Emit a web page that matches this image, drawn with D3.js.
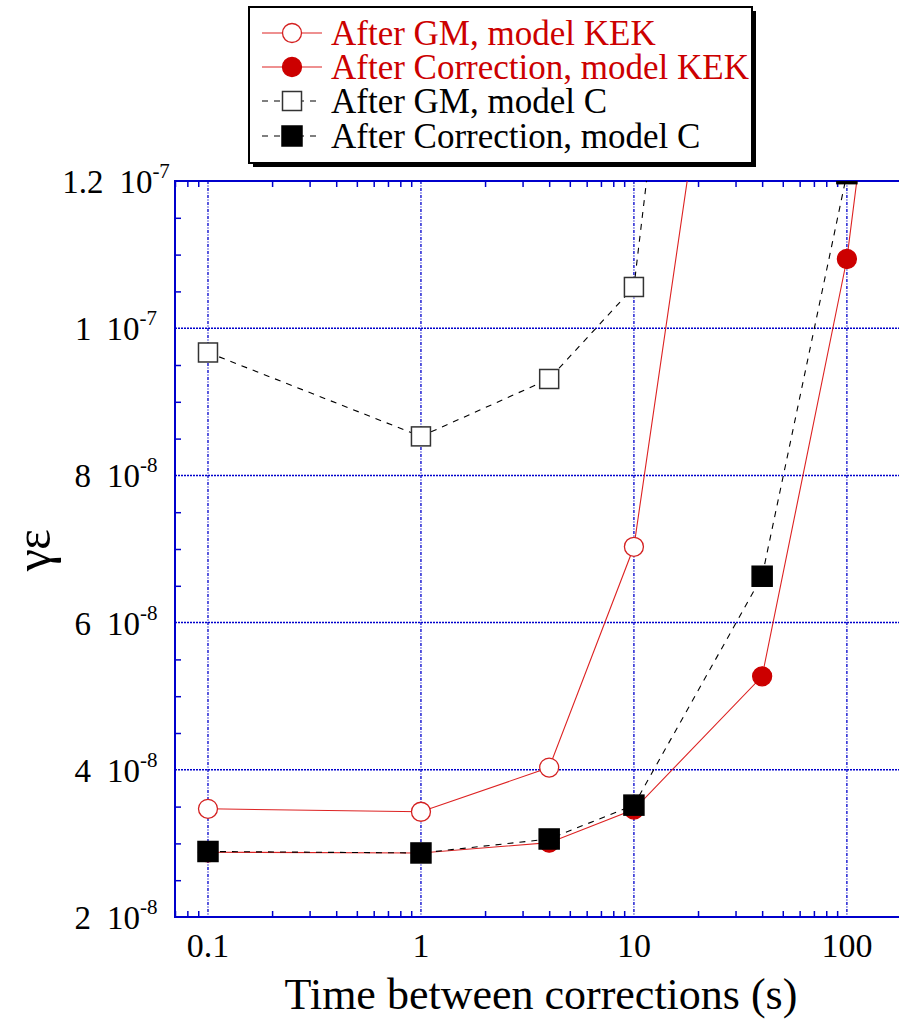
<!DOCTYPE html>
<html>
<head>
	<meta charset="utf-8">
	<title></title>
	<style>
		body { margin: 0; background: #fff; }
		text { font-family: "Liberation Serif", "Times New Roman", serif; }
	</style>
</head>
<body>
	<div class="chart"></div>
	<script src="https://cdn.jsdelivr.net/npm/d3@7/dist/d3.min.js" charset="utf-8"></script>

	<script type="text/javascript">
		// values (time in s, emittance)
		var gmKekT   = [0.1, 1, 4, 10, 40];
		var gmKekE   = [3.47e-8, 3.43e-8, 4.03e-8, 7.03e-8, 1.9e-7];
		var corKekT  = [0.1, 1, 4, 10, 40, 100, 200];
		var corKekE  = [2.88e-8, 2.87e-8, 3.01e-8, 3.46e-8, 5.27e-8, 1.094e-7, 1.78e-7];
		var gmCT     = [0.1, 1, 4, 10, 40];
		var gmCE     = [9.67e-8, 8.53e-8, 9.31e-8, 1.056e-7, 2.52e-7];
		var corCT    = [0.1, 1, 4, 10, 40, 100];
		var corCE    = [2.89e-8, 2.87e-8, 3.06e-8, 3.52e-8, 6.63e-8, 1.21e-7];

		var legendLabels = ["After GM, model KEK", "After Correction, model KEK", "After GM, model C", "After Correction, model C"];
		var xTicks = [0.1, 1, 10, 100];
		var xTickLabels = ["0.1", "1", "10", "100"];
		var yTicks = [2e-8, 4e-8, 6e-8, 8e-8, 1e-7, 1.2e-7];
		var yTickMant = ["2", "4", "6", "8", "1", "1.2"];
		var yTickExp  = ["-8", "-8", "-8", "-8", "-7", "-7"];

		var width  = 899;
		var height = 1019;
		var pLeft = 175, pTop = 181, pBottom = 917, pRight = 911;
		var blue = "#0000cc";
		var red  = "#cc0000";

		var x = d3.scaleLog().domain([0.07, 200]).range([pLeft, pRight]);
		var y = d3.scaleLinear().domain([2e-8, 1.2e-7]).range([pBottom, pTop]);

		var svg = d3.select('.chart').append("svg").attr("width", width).attr("height", height);

		svg.append("clipPath").attr("id", "plotclip")
			.append("rect").attr("x", pLeft).attr("y", pTop)
			.attr("width", pRight - pLeft).attr("height", pBottom - pTop);

		// grid
		var grid = svg.append("g");
		grid.selectAll("line.v").data(xTicks).enter().append("line")
			.attr("x1", d => x(d)).attr("x2", d => x(d))
			.attr("y1", pTop).attr("y2", pBottom)
			.attr("stroke", blue).attr("stroke-width", 1.3)
			.attr("stroke-dasharray", "3,1.5,1,1.5");
		grid.selectAll("line.h").data(yTicks.slice(1, -1)).enter().append("line")
			.attr("x1", pLeft).attr("x2", pRight)
			.attr("y1", d => y(d)).attr("y2", d => y(d))
			.attr("stroke", blue).attr("stroke-width", 1.5)
			.attr("stroke-dasharray", "2,1");

		// minor ticks (inward)
		var xMinor = [];
		[0.01, 0.1, 1, 10, 100].forEach(function(dec) {
			for (var k = 2; k <= 9; k++) {
				var v = dec * k;
				if (v >= 0.07 && v <= 200) xMinor.push(v);
			}
		});
		var axes = svg.append("g");
		axes.append("g").attr("transform", "translate(0," + pBottom + ")")
			.call(d3.axisTop(x).tickValues(xMinor).tickSize(6).tickFormat(""))
			.call(g => g.select(".domain").remove());
		axes.append("g").attr("transform", "translate(0," + pTop + ")")
			.call(d3.axisBottom(x).tickValues(xMinor).tickSize(6).tickFormat(""))
			.call(g => g.select(".domain").remove());
		var yMinor = d3.range(2.5e-8, 1.2e-7, 0.5e-8).filter(v => Math.abs(v / 2e-8 - Math.round(v / 2e-8)) > 0.01);
		axes.append("g").attr("transform", "translate(" + pLeft + ",0)")
			.call(d3.axisRight(y).tickValues(yMinor).tickSize(6).tickFormat(""))
			.call(g => g.select(".domain").remove());
		axes.selectAll("line").attr("stroke", blue).attr("stroke-width", 1.5);

		// frame
		axes.append("path")
			.attr("d", "M" + (pRight + 20) + "," + pTop + "H" + pLeft + "V" + pBottom + "H" + (pRight + 20))
			.attr("fill", "none").attr("stroke", blue).attr("stroke-width", 2);

		// tick labels
		svg.selectAll("text.xt").data(xTicks).enter().append("text")
			.attr("x", d => x(d)).attr("y", 957)
			.attr("text-anchor", "middle").attr("font-size", 34)
			.text((d, i) => xTickLabels[i]);
		var yl = svg.selectAll("text.yt").data(yTicks).enter().append("text")
			.attr("x", 116).attr("y", d => y(d) + 12)
			.attr("text-anchor", "middle").attr("font-size", 33);
		yl.append("tspan").text((d, i) => yTickMant[i]);
		yl.append("tspan").attr("dx", 16).text("10");
		yl.append("tspan").attr("dy", -15).attr("font-size", 21).text((d, i) => yTickExp[i]);

		// axis titles
		svg.append("text").attr("x", (pLeft + pRight) / 2 - 2).attr("y", 1009)
			.attr("text-anchor", "middle").attr("font-size", 44)
			.text("Time between corrections (s)");
		svg.append("text").attr("transform", "translate(50,550) rotate(-90)")
			.attr("text-anchor", "middle").attr("font-size", 50)
			.text("γε");

		// series
		var series = [
			{t: gmKekT,  e: gmKekE,  color: red,    dash: null,  shape: "circle", fill: "#fff"},
			{t: corKekT, e: corKekE, color: red,    dash: null,  shape: "circle", fill: red},
			{t: gmCT,    e: gmCE,    color: "#000", dash: "6,6", shape: "square", fill: "#fff"},
			{t: corCT,   e: corCE,   color: "#000", dash: "6,6", shape: "square", fill: "#000"}
		];
		var plot = svg.append("g").attr("clip-path", "url(#plotclip)");
		var line = d3.line().x(d => x(d[0])).y(d => y(d[1]));

		series.forEach(function(s) {
			var pts = s.t.map((t, i) => [t, s.e[i]]);
			plot.append("path").datum(pts)
				.attr("d", line).attr("fill", "none")
				.attr("stroke", s.color === red ? "#dd2222" : s.color).attr("stroke-width", 1.1)
				.attr("stroke-dasharray", s.dash);
		});
		function drawMarker(g, s, cx, cy) {
			if (s.shape === "circle") {
				g.append("circle").attr("cx", cx).attr("cy", cy).attr("r", 9.5)
					.attr("fill", s.fill).attr("stroke", s.fill === red ? red : "#d42020").attr("stroke-width", 1.3);
			} else {
				var sz = s.fill === "#000" ? 20 : 19;
				g.append("rect").attr("x", cx - sz / 2).attr("y", cy - sz / 2)
					.attr("width", sz).attr("height", sz)
					.attr("fill", s.fill).attr("stroke", s.fill === "#000" ? "#000" : "#333").attr("stroke-width", 1.5);
			}
		}
		series.forEach(function(s) {
			s.t.forEach(function(t, i) {
				drawMarker(plot, s, x(t), y(s.e[i]));
			});
		});

		// legend
		var lg = svg.append("g");
		lg.append("rect").attr("x", 253).attr("y", 11).attr("width", 503).attr("height", 156).attr("fill", "#000");
		lg.append("rect").attr("x", 249).attr("y", 7).attr("width", 503).attr("height", 156)
			.attr("fill", "#fff").attr("stroke", "#000").attr("stroke-width", 2);
		var rowY = [33, 67, 101, 136];
		series.forEach(function(s, i) {
			lg.append("line").attr("x1", 262).attr("x2", 322).attr("y1", rowY[i]).attr("y2", rowY[i])
				.attr("stroke", s.color === red ? "#dd2222" : s.color).attr("stroke-width", 1.1)
				.attr("stroke-dasharray", s.dash);
			drawMarker(lg, s, 292, rowY[i]);
			lg.append("text").attr("x", 331).attr("y", rowY[i] + 12)
				.attr("font-size", 35).attr("fill", s.color === red ? red : "#000")
				.text(legendLabels[i]);
		});
	</script>
</body>
</html>
